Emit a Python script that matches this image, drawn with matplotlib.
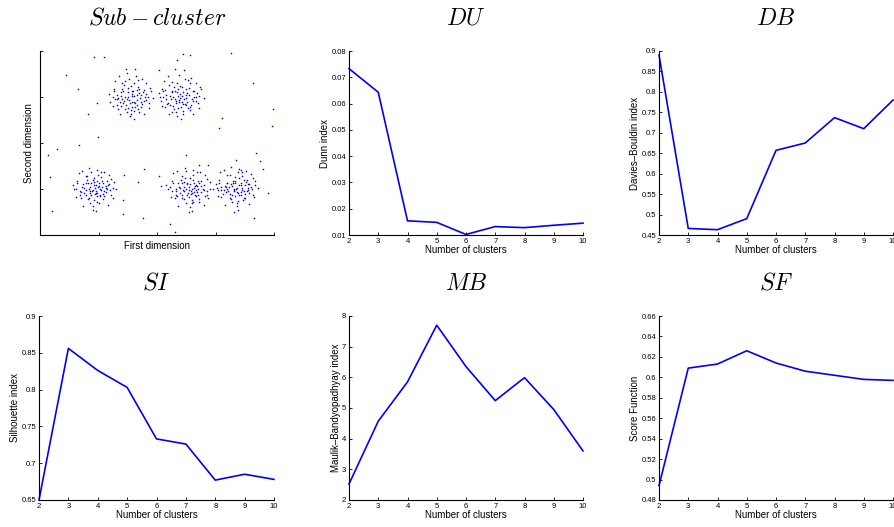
import matplotlib
matplotlib.use("Agg")
import matplotlib.pyplot as plt

plt.rcParams['font.family'] = ['Liberation Sans', 'DejaVu Sans']
plt.rcParams['mathtext.fontset'] = 'cm'

# scatter data, in hundredths of a unit (axes run 0..4 on both sides)
cl_upper_left = [(157,302),(142,288),(165,315),(150,276),(171,297),(138,310),(160,331),(148,295),(175,284),(132,305),
                 (155,262),(168,322),(145,300),(162,279),(152,340),(181,293),(140,318),(158,307),(170,268),(136,290),
                 (150,299),(164,345),(147,283),(176,311),(156,272),(129,296),(161,289),(143,326),(172,304),(153,258),
                 (166,294),(139,281),(159,312),(185,301),(146,335),(163,287),(151,320),(134,298),(169,309),(157,278),
                 (144,292),(178,316),(154,286),(161,303),(149,352),(124,300),(167,274),(141,296),(173,290),(158,313),
                 (127,318),(133,275),(186,286),(190,312),(120,290),(136,262),(178,262),(182,330),(128,335),(160,252),
                 (147,360),(174,340),(193,298),(118,306),(131,282),(187,276),(155,325),(166,283),(142,312),(170,318),
                 (135,345),(149,268),(179,300),(124,280),(162,360),(152,294),(188,320),(139,302),(173,278),(158,290),
                 (145,275),(165,305),(131,296),(177,292),(150,310),(160,270),(141,330),(182,306),(126,312),(168,338)]
cl_upper_right = [(239,298),(225,310),(248,285),(232,292),(255,305),(219,288),(242,322),(236,276),(260,296),(228,301),
                  (245,264),(214,315),(251,290),(234,330),(263,312),(222,282),(240,307),(257,272),(230,295),(248,340),
                  (211,299),(244,284),(236,318),(266,300),(226,268),(252,309),(238,289),(220,326),(258,283),(243,302),
                  (231,312),(267,291),(235,258),(249,318),(224,296),(256,330),(241,279),(216,305),(246,296),(233,286),
                  (262,314),(229,322),(253,277),(238,348),(207,292),(244,310),(271,302),(227,280),(250,298),(236,303),
                  (209,318),(214,278),(270,286),(275,318),(205,300),(220,262),(262,262),(266,330),(212,335),(241,252),
                  (230,360),(258,342),(280,298),(203,308),(217,284),(272,276),(240,325),(250,283),(226,312),(254,320),
                  (219,345),(232,268),(264,300),(208,280),(246,358),(237,294),(274,322),(223,302),(257,278),(242,290),
                  (229,275),(249,305),(215,296),(261,292),(234,310),(244,270),(225,332),(268,308),(210,312),(253,338)]
cl_lower_left = [(94,102),(85,95),(101,112),(78,98),(108,90),(90,120),(97,84),(72,104),(112,106),(88,88),
                 (99,130),(82,112),(105,97),(93,76),(76,92),(115,118),(86,104),(102,100),(91,62),(80,120),
                 (110,84),(96,108),(84,80),(120,98),(89,96),(104,126),(74,110),(98,92),(107,114),(87,136),
                 (94,90),(79,86),(113,102),(92,116),(100,70),(83,100),(118,110),(96,96),(70,94),(106,104),
                 (90,54),(103,88),(81,128),(97,118),(125,102),(86,92),(109,96),(62,100),(99,104),(93,108),
                 (64,118),(70,80),(122,86),(126,116),(58,100),(74,64),(116,66),(118,130),(66,134),(96,52),
                 (84,146),(110,138),(130,100),(56,108),(68,88),(124,80),(92,124),(102,84),(78,112),(106,118),
                 (72,140),(86,70),(114,100),(62,82),(98,142),(90,98),(122,122),(76,102),(108,78),(95,92),
                 (82,78),(101,106),(68,96),(112,94),(88,112),(97,72),(78,128),(116,108),(64,112),(104,136)]
cl_lower_mid = [(258,96),(246,104),(265,88),(252,110),(270,100),(240,92),(262,120),(255,82),(275,106),(244,98),
                (260,70),(236,112),(268,94),(251,86),(280,98),(248,124),(263,102),(242,80),(272,114),(256,60),
                (232,100),(266,108),(253,92),(285,96),(246,116),(259,76),(238,104),(270,88),(261,130),(250,100),
                (226,96),(276,118),(257,110),(243,88),(264,94),(282,84),(249,140),(267,98),(235,84),(255,104),
                (272,72),(241,120),(258,90),(290,100),(247,96),(263,114),(222,104),(269,106),(254,50),(260,100),
                (225,118),(230,80),(286,86),(290,116),(218,100),(236,64),(280,66),(282,130),(228,134),(260,52),
                (248,146),(274,138),(296,100),(216,108),(232,88),(288,80),(256,124),(266,84),(242,112),(270,118),
                (234,140),(250,70),(278,100),(224,82),(262,142),(254,98),(286,122),(240,102),(272,78),(259,92),
                (246,78),(265,106),(232,96),(276,94),(252,112),(261,72),(242,128),(280,108),(228,112),(268,136)]
cl_lower_right = [(337,102),(326,110),(344,94),(331,96),(350,108),(320,100),(340,124),(334,84),(355,98),(324,90),
                  (343,112),(316,106),(348,80),(330,118),(360,104),(336,70),(322,96),(346,102),(338,136),(328,106),
                  (352,116),(314,98),(341,88),(333,112),(358,92),(327,78),(345,128),(319,114),(349,96),(335,100),
                  (310,104),(356,110),(339,92),(325,130),(347,76),(332,98),(362,100),(329,88),(343,142),(318,94),
                  (353,120),(337,64),(323,104),(350,90),(340,108),(305,98),(368,108),(334,118),(346,98),(331,50),
                  (306,120),(310,82),(364,88),(368,118),(302,102),(316,66),(358,68),(360,132),(308,136),(338,54),
                  (326,148),(352,140),(372,102),(300,110),(312,90),(366,82),(334,126),(344,86),(320,114),(348,120),
                  (314,142),(328,72),(356,102),(304,84),(340,144),(332,100),(364,124),(318,104),(350,80),(337,94),
                  (324,80),(343,108),(310,98),(354,96),(330,114),(339,74),(320,130),(358,110),(306,114),(346,138)]
outliers = [(92,387),(109,387),(44,348),(65,317),(97,286),(82,264),(99,214),(67,195),(29,186),(14,173),
            (17,127),(21,52),(142,77),(142,46),(176,37),(168,116),(178,144),(144,131),(203,358),(234,380),
            (244,393),(256,391),(326,396),(364,330),(398,273),(397,236),(311,254),(306,232),(369,179),(376,160),
            (381,144),(390,92),(366,37),(222,24),(231,7),(250,175),(272,153),(287,153),(335,164),(207,107),(203,129)]

# cluster validity indices
n_clusters = [2, 3, 4, 5, 6, 7, 8, 9, 10]
dunn = [0.0733, 0.0643, 0.0154, 0.0148, 0.0102, 0.0132, 0.0128, 0.0137, 0.0145]
davies = [0.89, 0.466, 0.463, 0.49, 0.657, 0.675, 0.737, 0.71, 0.78]
silhouette = [0.65, 0.856, 0.826, 0.803, 0.733, 0.726, 0.677, 0.685, 0.678]
maulik = [2.52, 4.57, 5.85, 7.7, 6.35, 5.24, 5.99, 4.95, 3.6]
score_fn = [0.494, 0.609, 0.613, 0.626, 0.614, 0.606, 0.602, 0.598, 0.597]

W, H = 894, 527
fig = plt.figure(figsize=(W / 100, H / 100), dpi=100)


def axes_px(left, top, right, bottom):
    return fig.add_axes([left / W, 1 - bottom / H, (right - left) / W, (bottom - top) / H])


def style(ax):
    ax.spines['top'].set_visible(False)
    ax.spines['right'].set_visible(False)
    ax.tick_params(direction='in', length=2.5, width=0.6, labelsize=5.5, pad=2)
    for s in ('left', 'bottom'):
        ax.spines[s].set_linewidth(0.8)


def index_plot(ax, vals, ylim, yticks, ylabel, title):
    ax.plot(n_clusters, vals, color='#0000ff', lw=1.2, clip_on=False)
    ax.set_xlim(2, 10)
    ax.set_xticks(n_clusters)
    ax.set_ylim(*ylim)
    ax.set_yticks(yticks)
    ax.set_yticklabels([('%g' % t) for t in yticks])
    ax.set_xlabel('Number of clusters', fontsize=7, labelpad=0)
    ax.set_ylabel(ylabel, fontsize=7, labelpad=1)
    ax.set_title(title, fontsize=17, pad=19)
    style(ax)


# scatter panel
ax = axes_px(40, 51, 274, 235)
for cl in (cl_upper_left, cl_upper_right, cl_lower_left, cl_lower_mid, cl_lower_right, outliers):
    ax.plot([p[0] / 100 for p in cl], [p[1] / 100 for p in cl], '.', color='#0000ff', ms=2.3, mew=0)
ax.set_xlim(0, 4)
ax.set_ylim(0, 4)
ax.set_xticks([0, 1, 2, 3, 4])
ax.set_yticks([0, 1, 2, 3, 4])
ax.set_xticklabels([])
ax.set_yticklabels([])
ax.set_xlabel('First dimension', fontsize=7, labelpad=2)
ax.set_ylabel('Second dimension', fontsize=7, labelpad=2)
ax.set_title(r'$Sub-cluster$', fontsize=17, pad=19)
style(ax)

index_plot(axes_px(349, 51, 583, 235), dunn, (0.01, 0.08),
           [0.01, 0.02, 0.03, 0.04, 0.05, 0.06, 0.07, 0.08], 'Dunn index', r'$DU$')
index_plot(axes_px(659, 51, 893, 235), davies, (0.45, 0.9),
           [0.45, 0.5, 0.55, 0.6, 0.65, 0.7, 0.75, 0.8, 0.85, 0.9], 'Davies\u2013Bouldin index', r'$DB$')
index_plot(axes_px(39, 316, 274, 500), silhouette, (0.65, 0.9),
           [0.65, 0.7, 0.75, 0.8, 0.85, 0.9], 'Silhouette index', r'$SI$')
index_plot(axes_px(349, 316, 583, 500), maulik, (2, 8),
           [2, 3, 4, 5, 6, 7, 8], 'Maulik\u2013Bandyopadhyay index', r'$MB$')
index_plot(axes_px(659, 316, 893, 500), score_fn, (0.48, 0.66),
           [0.48, 0.5, 0.52, 0.54, 0.56, 0.58, 0.6, 0.62, 0.64, 0.66], 'Score Function', r'$SF$')

fig.savefig('out.png', dpi=100)
